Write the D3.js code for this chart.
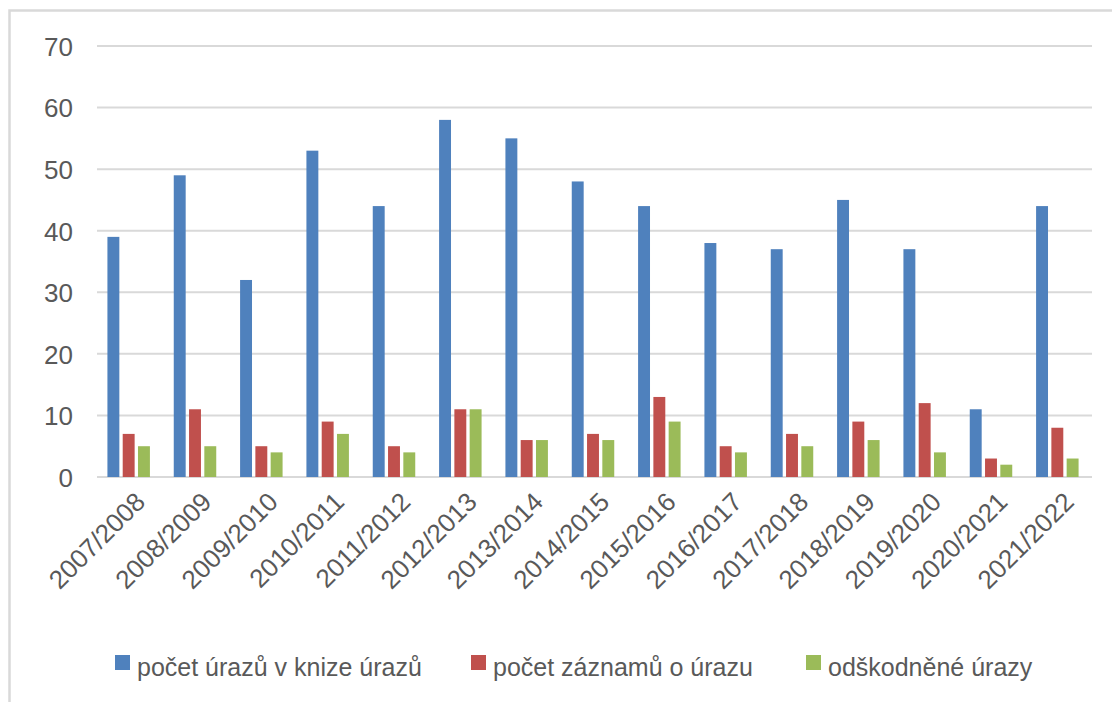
<!DOCTYPE html>
<html>
<head>
<meta charset="utf-8">
<script src="https://cdn.jsdelivr.net/npm/d3@7"></script>
<style>
  html, body { margin: 0; padding: 0; background: #fff; }
  svg { display: block; }
</style>
</head>
<body>
<svg id="chart" width="1112" height="702"></svg>
<script>
const categories = ["2007/2008","2008/2009","2009/2010","2010/2011","2011/2012","2012/2013","2013/2014","2014/2015","2015/2016","2016/2017","2017/2018","2018/2019","2019/2020","2020/2021","2021/2022"];
const seriesNames = ["počet úrazů v knize úrazů", "počet záznamů o úrazu", "odškodněné úrazy"];
const knihaUrazu = [39, 49, 32, 53, 44, 58, 55, 48, 44, 38, 37, 45, 37, 11, 44];
const zaznamyUrazu = [7, 11, 5, 9, 5, 11, 6, 7, 13, 5, 7, 9, 12, 3, 8];
const odskodneneUrazy = [5, 5, 4, 7, 4, 11, 6, 6, 9, 4, 5, 6, 4, 2, 3];
const yTicks = [0, 10, 20, 30, 40, 50, 60, 70];
const colors = ["#4F81BD", "#C0504D", "#9BBB59"];

(function () {
const series = [knihaUrazu, zaznamyUrazu, odskodneneUrazy];
const svg = d3.select("#chart");
const font = "'Liberation Sans', Arial, sans-serif";
const textColor = "#595959";

// frame
svg.append("rect").attr("x", 9.5).attr("y", 10.5).attr("width", 1120).attr("height", 720)
  .attr("fill", "none").attr("stroke", "#d9d9d9").attr("stroke-width", 2.5);

const mLeft = 97, mRight = 1092, mTop = 46, mBottom = 477;
const x = d3.scaleBand().domain(categories).range([mLeft, mRight]).padding(0);
const y = d3.scaleLinear().domain([0, 70]).range([mBottom, mTop]);

const sub = d3.scaleBand().domain(d3.range(3)).range([0, x.bandwidth()]).paddingInner(0.22).paddingOuter(0.78);

// gridlines
svg.append("g").selectAll("line").data(yTicks).join("line")
  .attr("x1", mLeft).attr("x2", mRight)
  .attr("y1", d => y(d)).attr("y2", d => y(d))
  .attr("stroke", "#d9d9d9").attr("stroke-width", 2);

// y axis labels
const yAxis = d3.axisLeft(y).tickValues(yTicks).tickSize(0).tickPadding(0);
const yg = svg.append("g").attr("transform", `translate(73,0)`).call(yAxis);
yg.select(".domain").remove();
yg.selectAll("text").attr("font-family", font).attr("font-size", 26).attr("fill", textColor).attr("dy", "0.36em");

// bars
series.forEach((vals, si) => {
  svg.append("g").selectAll("rect").data(vals).join("rect")
    .attr("x", (d, i) => x(categories[i]) + sub(si) - 1.5)
    .attr("y", d => y(d))
    .attr("width", sub.bandwidth())
    .attr("height", d => y(0) - y(d))
    .attr("fill", colors[si]);
});

// x axis labels
const xAxis = d3.axisBottom(x).tickSize(0).tickPadding(0);
const xg = svg.append("g").attr("transform", `translate(0,${mBottom})`).call(xAxis);
xg.select(".domain").remove();
xg.selectAll("text")
  .attr("font-family", font).attr("font-size", 26).attr("fill", textColor)
  .attr("text-anchor", "end").attr("dy", null).attr("y", 0)
  .attr("transform", "translate(3,13) rotate(-45)")
  .attr("dominant-baseline", "hanging");

// legend
const legendX = [115, 471, 806];
const lg = svg.append("g");
seriesNames.forEach((name, i) => {
  lg.append("rect").attr("x", legendX[i]).attr("y", 655).attr("width", 15).attr("height", 15).attr("fill", colors[i]);
  lg.append("text").attr("x", legendX[i] + 22).attr("y", 676)
    .attr("font-family", font).attr("font-size", 25).attr("fill", textColor).text(name);
});
})();
</script>
</body>
</html>
